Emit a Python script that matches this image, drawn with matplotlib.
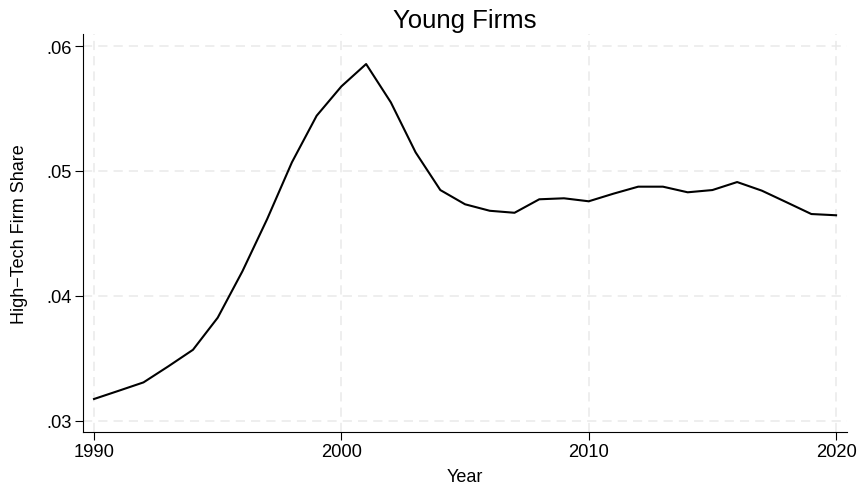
import numpy as np
import matplotlib
matplotlib.use("Agg")
import matplotlib.pyplot as plt

plt.rcParams['font.family'] = ['Liberation Sans', 'DejaVu Sans']

# Data
years = list(range(1990, 2021))
share = [0.03174, 0.03240, 0.03307, 0.03435, 0.03568, 0.03825, 0.04197,
         0.04615, 0.05069, 0.05442, 0.05677, 0.05856, 0.05549, 0.05149,
         0.04847, 0.04733, 0.04681, 0.04665, 0.04773, 0.04781, 0.04757,
         0.04818, 0.04874, 0.04874, 0.04829, 0.04847, 0.04911, 0.04842,
         0.04749, 0.04655, 0.04645]
x_ticks = [1990, 2000, 2010, 2020]
y_ticks = [0.03, 0.04, 0.05, 0.06]
y_tick_labels = ['.03', '.04', '.05', '.06']

fig = plt.figure(figsize=(8.57, 4.89), dpi=100)
ax = fig.add_axes([0.0963, 0.1151, 0.8917, 0.8127])

ax.plot(years, share, color='black', linewidth=1.5, zorder=3)

ax.set_xlim(1989.535, 2020.43)
ax.set_ylim(0.02912, 0.06094)
ax.set_xticks(x_ticks)
ax.set_yticks(y_ticks)
ax.set_yticklabels(y_tick_labels)

ax.grid(True, color='#e9e9e9', linestyle=(0, (6, 4)), linewidth=1.1, zorder=0)
ax.tick_params(axis='both', direction='out', length=6, width=0.8,
               labelsize=13.2, color='black', pad=2)

for side in ['top', 'right']:
    ax.spines[side].set_visible(False)
for side in ['left', 'bottom']:
    ax.spines[side].set_color('black')
    ax.spines[side].set_linewidth(0.8)

ax.set_xlabel('Year', fontsize=13, labelpad=6)
ax.set_ylabel('High\u2212Tech Firm Share', fontsize=13)
ax.yaxis.set_label_coords(-0.071, 0.5)
ax.set_title('Young Firms', fontsize=18.5, pad=5)

fig.savefig('out.png', dpi=100)
